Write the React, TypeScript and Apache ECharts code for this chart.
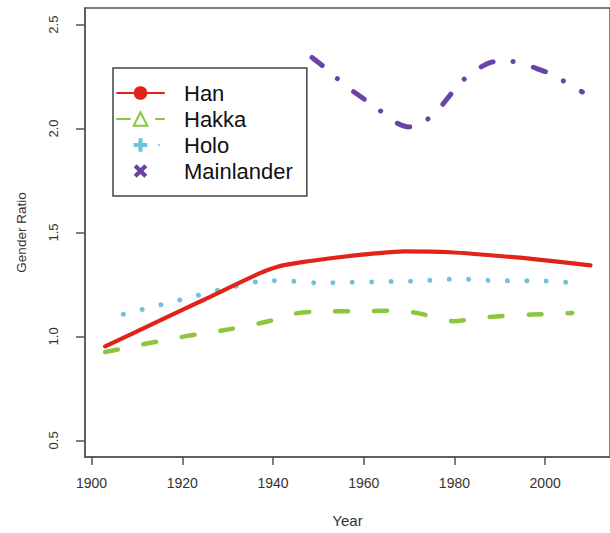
import React, { useEffect, useRef } from "react";
import * as echarts from "echarts";

const xTicks = [1900, 1920, 1940, 1960, 1980, 2000];
const yTicks = [0.5, 1.0, 1.5, 2.0, 2.5];

const hanYears = [1903, 1915, 1925, 1937, 1941, 1946, 1955, 1962, 1969, 1979, 1990, 1998, 2010];
const hanValues = [0.952, 1.076, 1.179, 1.303, 1.335, 1.356, 1.382, 1.398, 1.409, 1.405, 1.387, 1.371, 1.342];

const hakkaYears = [1903, 1910, 1920, 1930, 1939, 1944, 1950, 1960, 1968, 1972, 1977, 1980, 1985, 1990, 1997, 2006];
const hakkaValues = [0.925, 0.956, 0.998, 1.033, 1.073, 1.107, 1.12, 1.122, 1.124, 1.112, 1.084, 1.073, 1.088, 1.097, 1.105, 1.113];

const holoYears = [1907, 1915, 1923, 1931, 1939, 1944, 1950, 1956, 1964, 1972, 1981, 1990, 1998, 2006.5];
const holoValues = [1.107, 1.151, 1.195, 1.238, 1.268, 1.266, 1.258, 1.26, 1.263, 1.267, 1.276, 1.268, 1.268, 1.257];

const mainYears = [1948.6, 1952, 1956, 1960, 1964, 1967, 1970, 1973, 1976, 1979, 1982, 1985, 1988, 1991, 1995, 1998, 2002, 2005, 2008.2];
const mainValues = [2.342, 2.283, 2.206, 2.143, 2.08, 2.03, 2.008, 2.03, 2.08, 2.16, 2.235, 2.285, 2.318, 2.327, 2.313, 2.29, 2.256, 2.216, 2.176];

const seriesNames = ["Han", "Hakka", "Holo", "Mainlander"];

const zip = (xs: number[], ys: number[]) => xs.map((x, i) => [x, ys[i]]);

const PLUS = "path://M3.5,0H6.5V3.5H10V6.5H6.5V10H3.5V6.5H0V3.5H3.5Z";
const CROSS = "path://M0,2.2L2.2,0L5,2.8L7.8,0L10,2.2L7.2,5L10,7.8L7.8,10L5,7.2L2.2,10L0,7.8L2.8,5Z";

export default function App() {
  const ref = useRef<HTMLDivElement>(null);
  useEffect(() => {
    if (!ref.current) return;
    const chart = echarts.init(ref.current, undefined, { renderer: "svg" });
    const font = "Liberation Sans, Arial, Helvetica, sans-serif";
    const axisColor = "#555";
    chart.setOption({
      animation: false,
      backgroundColor: "#fff",
      textStyle: { fontFamily: font },
      grid: {
        left: 85,
        top: 8,
        width: 536,
        height: 455,
        show: true,
        borderColor: axisColor,
        borderWidth: 1.5,
        backgroundColor: "transparent",
      },
      legend: {
        show: true,
        orient: "vertical",
        left: 113,
        top: 68,
        padding: [14, 14, 14, 3],
        itemGap: 4,
        itemWidth: 47,
        itemHeight: 17,
        borderColor: "#444",
        borderWidth: 1.5,
        backgroundColor: "#fff",
        textStyle: { fontSize: 22, color: "#111", fontFamily: font, padding: [0, 0, 0, 15] },
        data: [
          { name: "Han" },
          { name: "Hakka" },
          { name: "Holo", lineStyle: { type: [0.01, 45.99], dashOffset: 4 } },
          { name: "Mainlander", lineStyle: { opacity: 0 } },
        ],
        selectedMode: false,
      },
      xAxis: {
        type: "value",
        min: 1898.55,
        max: 2014.3,
        name: "Year",
        nameLocation: "middle",
        nameGap: 56,
        nameTextStyle: { fontSize: 15, color: "#333", fontFamily: font },
        splitLine: { show: false },
        axisLine: { show: true, onZero: false, lineStyle: { color: axisColor, width: 1.5 } },
        axisTick: { show: true, length: 8, customValues: xTicks, lineStyle: { color: axisColor, width: 1.5 } },
        axisLabel: {
          customValues: xTicks,
          margin: 19,
          fontSize: 14,
          color: "#333",
          fontFamily: font,
          formatter: (v: number) => String(v),
        },
      },
      yAxis: {
        type: "value",
        min: 0.42,
        max: 2.58,
        name: "Gender Ratio",
        nameLocation: "middle",
        nameGap: 57,
        nameTextStyle: { fontSize: 13.5, color: "#333", fontFamily: font },
        splitLine: { show: false },
        axisLine: { show: true, onZero: false, lineStyle: { color: axisColor, width: 1.5 } },
        axisTick: { show: true, length: 9, customValues: yTicks, lineStyle: { color: axisColor, width: 1.5 } },
        axisLabel: {
          customValues: yTicks,
          rotate: 90,
          margin: 25,
          fontSize: 13,
          color: "#333",
          fontFamily: font,
          formatter: (v: number) => v.toFixed(1),
        },
      },
      series: [
        {
          name: seriesNames[0],
          type: "line",
          data: zip(hanYears, hanValues),
          smooth: 0.3,
          symbol: "circle",
          showSymbol: false,
          color: "#e2231a",
          lineStyle: { color: "#e2231a", width: 4.2, cap: "round" },
          z: 4,
        },
        {
          name: seriesNames[1],
          type: "line",
          data: zip(hakkaYears, hakkaValues),
          smooth: 0.3,
          symbol: "emptyTriangle",
          showSymbol: false,
          color: "#8cc63f",
          lineStyle: { color: "#8cc63f", width: 4.5, type: [13, 26], cap: "round" },
          z: 3,
        },
        {
          name: seriesNames[2],
          type: "line",
          data: zip(holoYears, holoValues),
          smooth: 0.3,
          symbol: PLUS,
          showSymbol: false,
          color: "#6ec3d8",
          lineStyle: { color: "#6ec3d8", width: 5, type: [0.01, 19.4], cap: "round" },
          z: 3,
        },
        {
          name: seriesNames[3],
          type: "line",
          data: zip(mainYears, mainValues),
          smooth: 0.3,
          symbol: CROSS,
          showSymbol: false,
          color: "#6a42a8",
          lineStyle: { color: "#6a42a8", width: 5, type: [13, 20, 0.01, 21], cap: "round" },
          z: 3,
        },
      ],
    });
    return () => chart.dispose();
  }, []);
  return (
    <div
      ref={ref}
      style={{ position: "absolute", left: 0, top: 0, width: 610, height: 533, background: "#fff" }}
    />
  );
}
